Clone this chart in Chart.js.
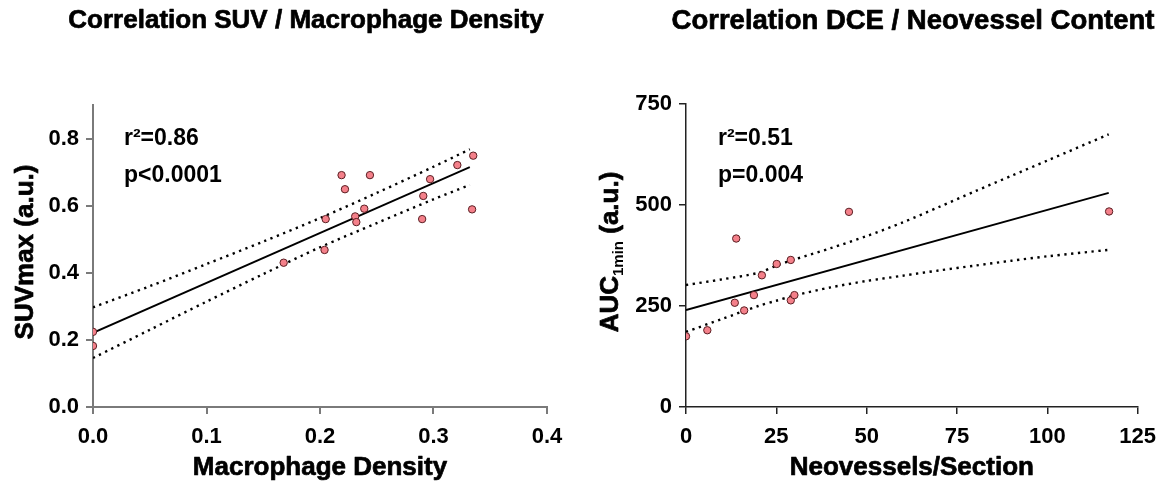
<!DOCTYPE html>
<html><head><meta charset="utf-8">
<script src="https://cdn.jsdelivr.net/npm/chart.js@4.4.0/dist/chart.umd.min.js"></script>
<style>
html,body{margin:0;padding:0;background:#fff;}
#wrap{position:relative;width:1166px;height:489px;overflow:hidden;}
canvas{position:absolute;top:0;}
</style></head><body>
<div id="wrap">
<canvas id="c1" width="583" height="489" style="left:0px"></canvas>
<canvas id="c2" width="583" height="489" style="left:583px"></canvas>
</div>
<script>
// ---------- data: left panel (SUV vs macrophage density) ----------
const suvTitle = 'Correlation SUV / Macrophage Density';
const suvXLabel = 'Macrophage Density';
const suvYLabel = [['SUVmax (a.u.)', 'n']];
const suvStats = ['r\u00B2=0.86', 'p<0.0001'];
const suvX = [0, 0, 0.168, 0.204, 0.205, 0.219, 0.222, 0.231, 0.232, 0.239, 0.244, 0.290, 0.291, 0.297, 0.321, 0.335, 0.334];
const suvY = [0.224, 0.182, 0.430, 0.468, 0.560, 0.691, 0.649, 0.568, 0.551, 0.591, 0.691, 0.560, 0.629, 0.679, 0.721, 0.749, 0.589];
const suvFitX = [0, 0.332];
const suvFitY = [0.221, 0.715];
const suvBandX = [0, 0.05, 0.1, 0.15, 0.2, 0.25, 0.3, 0.332];
const suvUpper = [0.297, 0.360, 0.426, 0.493, 0.563, 0.638, 0.716, 0.768];
const suvLower = [0.146, 0.230, 0.314, 0.396, 0.476, 0.548, 0.619, 0.662];
const suvXTicks = [0, 0.1, 0.2, 0.3, 0.4];
const suvYTicks = [0, 0.2, 0.4, 0.6, 0.8];

// ---------- data: right panel (DCE vs neovessel content) ----------
const dceTitle = 'Correlation DCE / Neovessel Content';
const dceXLabel = 'Neovessels/Section';
const dceYLabel = [['AUC', 'n'], ['1min', 's'], [' (a.u.)', 'n']];
const dceStats = ['r\u00B2=0.51', 'p=0.004'];
const dceX = [0, 5.9, 13.5, 13.9, 16.1, 18.8, 21.0, 25.1, 29.0, 29.0, 30.0, 45.1, 117.1];
const dceY = [175, 190, 258, 417, 239, 277, 326, 354, 364, 264, 277, 483, 484];
const dceFitX = [0, 117];
const dceFitY = [240, 530];
const dceBandX = [0, 10, 20, 25, 30, 40, 50, 60, 70, 80, 90, 100, 117];
const dceUpper = [302, 316, 332, 350, 365, 393, 423, 457, 495, 534, 572, 610, 675];
const dceLower = [186, 218, 250, 263, 276, 296, 312, 325, 338, 350, 362, 373, 389];
const dceXTicks = [0, 25, 50, 75, 100, 125];
const dceYTicks = [0, 250, 500, 750];

const FONT = "'Liberation Sans', Arial, Helvetica, sans-serif";
const pts = (xs, ys) => xs.map((x, i) => ({x: x, y: ys[i]}));

function heavyText(ctx, t, x, y) {
  ctx.fillText(t, x, y);
  ctx.strokeText(t, x, y);
}

const textPlugin = {
  id: 'panelTexts',
  afterDraw(chart, args, o) {
    const ctx = chart.ctx;
    const area = chart.chartArea;
    ctx.save();
    ctx.fillStyle = '#000';
    ctx.strokeStyle = '#000';
    ctx.lineWidth = 0.7;
    ctx.lineJoin = 'round';
    // panel title
    ctx.font = 'bold ' + o.titleSize + 'px ' + FONT;
    ctx.textAlign = 'center';
    ctx.textBaseline = 'middle';
    heavyText(ctx, o.title, o.titleX, o.titleY);
    // x-axis title
    ctx.font = 'bold 26px ' + FONT;
    heavyText(ctx, o.xTitle, (area.left + area.right) / 2, o.xTitleY);
    // statistics
    ctx.font = 'bold 23px ' + FONT;
    ctx.textAlign = 'left';
    ctx.textBaseline = 'alphabetic';
    o.stats.forEach((s, i) => ctx.fillText(s, o.statsX, o.statsY[i]));
    // rotated y-axis title (with optional subscript)
    ctx.translate(o.yTitleX, o.yTitleY);
    ctx.rotate(-Math.PI / 2);
    const parts = o.yTitle.map(p => ({t: p[0], sub: p[1] === 's'}));
    let total = 0;
    parts.forEach(p => {
      ctx.font = 'bold ' + (p.sub ? 15 : 26) + 'px ' + FONT;
      p.w = ctx.measureText(p.t).width;
      total += p.w;
    });
    let x = -total / 2;
    parts.forEach(p => {
      ctx.font = 'bold ' + (p.sub ? 15 : 26) + 'px ' + FONT;
      if (p.sub) ctx.fillText(p.t, x, 5); else heavyText(ctx, p.t, x, 0);
      x += p.w;
    });
    ctx.restore();
  }
};

function axis(cfg) {
  return {
    type: 'linear',
    min: cfg.min, max: cfg.max,
    afterBuildTicks: s => { s.ticks = cfg.ticks.map(v => ({value: v})); },
    afterFit: s => { if (cfg.w !== undefined) s.width = cfg.w; if (cfg.h !== undefined) s.height = cfg.h; },
    border: {display: true, color: cfg.color, width: cfg.lw},
    grid: {display: true, drawOnChartArea: false, drawTicks: true, tickLength: 7, color: cfg.color, lineWidth: cfg.lw},
    ticks: {
      color: '#000', padding: cfg.pad, font: {family: FONT, size: 22, weight: 'bold'},
      maxRotation: 0, autoSkip: false,
      callback: v => cfg.fmt(v)
    },
    title: {display: false}
  };
}

function makeChart(id, d) {
  return new Chart(document.getElementById(id), {
    type: 'scatter',
    data: {
      datasets: [
        {data: pts(d.x, d.y), order: 0, showLine: false, pointRadius: 3.7, pointHoverRadius: 3.7,
         pointBackgroundColor: '#f4808a', pointBorderColor: '#5a1e22', pointBorderWidth: 1},
        {data: pts(d.fitX, d.fitY), order: 1, showLine: true, pointRadius: 0, borderColor: '#000', borderWidth: 1.8, tension: 0, fill: false},
        {data: pts(d.bandX, d.upper), order: 1, showLine: true, pointRadius: 0, borderColor: '#000', borderWidth: 2.4, borderDash: [2.3, 4.5], tension: 0.3, fill: false},
        {data: pts(d.bandX, d.lower), order: 1, showLine: true, pointRadius: 0, borderColor: '#000', borderWidth: 2.4, borderDash: [2.3, 4.5], tension: 0.3, fill: false}
      ]
    },
    options: {
      responsive: false, animation: false, devicePixelRatio: 1,
      layout: {padding: d.padding},
      plugins: {legend: {display: false}, tooltip: {enabled: false}, title: {display: false},
        panelTexts: d.texts},
      scales: {x: d.xAxis, y: d.yAxis}
    },
    plugins: [textPlugin]
  });
}

makeChart('c1', {
  x: suvX, y: suvY, fitX: suvFitX, fitY: suvFitY, bandX: suvBandX, upper: suvUpper, lower: suvLower,
  padding: {left: 0, right: 36, top: 105, bottom: 0},
  xAxis: axis({min: 0, max: 0.4, ticks: suvXTicks, h: 82, color: '#7a7a7a', lw: 2, pad: 10, fmt: v => v.toFixed(1)}),
  yAxis: axis({min: 0, max: 0.9, ticks: suvYTicks, w: 93, color: '#7a7a7a', lw: 2, pad: 7, fmt: v => v.toFixed(1)}),
  texts: {title: suvTitle, titleSize: 26, titleX: 306, titleY: 21, xTitle: suvXLabel, xTitleY: 468,
          stats: suvStats, statsX: 124, statsY: [145, 182],
          yTitle: suvYLabel, yTitleX: 33, yTitleY: 252}
});

makeChart('c2', {
  x: dceX, y: dceY, fitX: dceFitX, fitY: dceFitY, bandX: dceBandX, upper: dceUpper, lower: dceLower,
  padding: {left: 0, right: 27, top: 104, bottom: 0},
  xAxis: axis({min: 0, max: 125, ticks: dceXTicks, h: 82, color: '#222', lw: 1.5, pad: 10, fmt: v => String(v)}),
  yAxis: axis({min: 0, max: 750, ticks: dceYTicks, w: 103, color: '#222', lw: 1.5, pad: 7, fmt: v => String(v)}),
  texts: {title: dceTitle, titleSize: 27.5, titleX: 330, titleY: 21, xTitle: dceXLabel, xTitleY: 468,
          stats: dceStats, statsX: 135, statsY: [145, 182],
          yTitle: dceYLabel, yTitleX: 35, yTitleY: 252}
});
</script>
</body></html>
